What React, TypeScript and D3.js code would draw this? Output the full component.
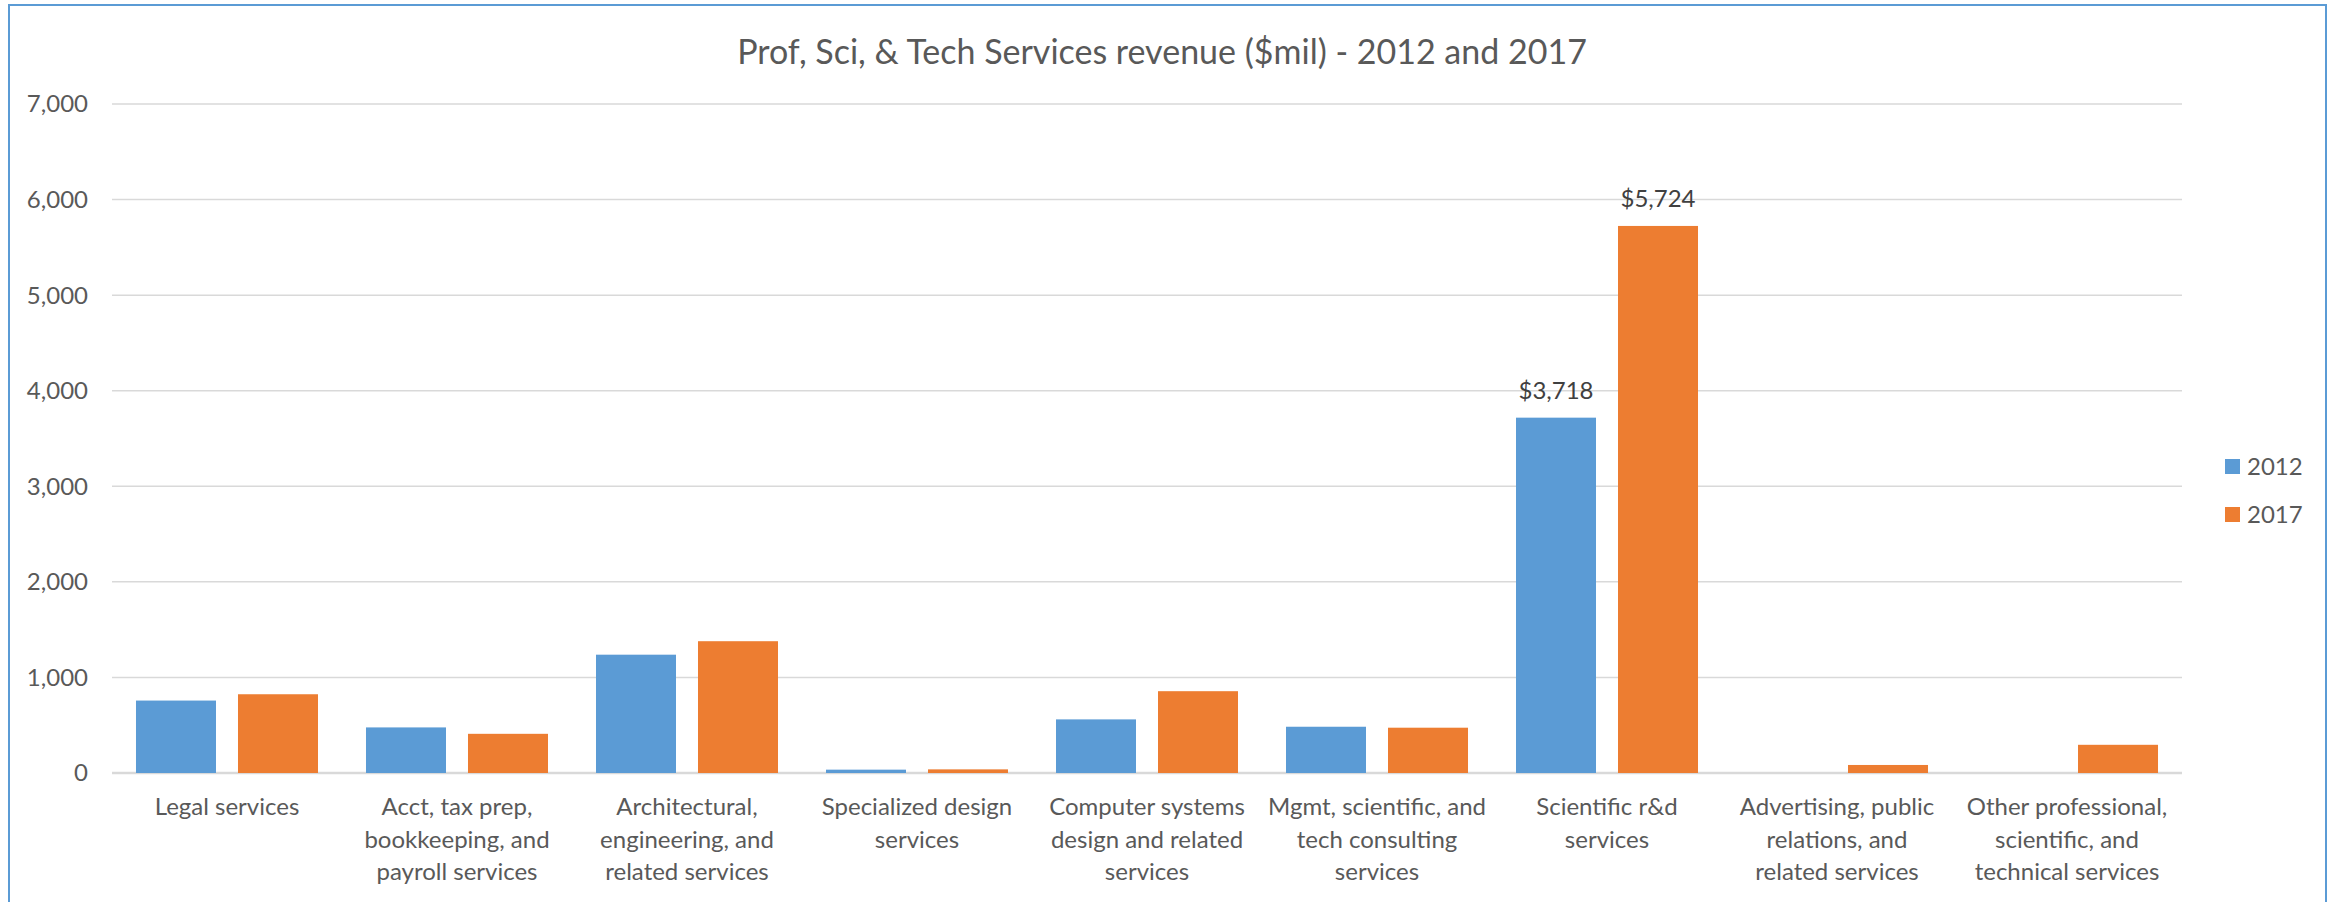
import React from "react";
import * as d3 from "d3";

const categories: string[][] = [
  ["Legal services"],
  ["Acct, tax prep,", "bookkeeping, and", "payroll services"],
  ["Architectural,", "engineering, and", "related services"],
  ["Specialized design", "services"],
  ["Computer systems", "design and related", "services"],
  ["Mgmt, scientific, and", "tech consulting", "services"],
  ["Scientific r&d", "services"],
  ["Advertising, public", "relations, and", "related services"],
  ["Other professional,", "scientific, and", "technical services"],
];
const seriesNames = ["2012", "2017"];
const values2012 = [758, 477, 1238, 35, 561, 484, 3718, 0, 0];
const values2017 = [824, 410, 1379, 38, 856, 474, 5724, 84, 295];
const labeledCategoryIndex = 6;
const yTicks = [0, 1000, 2000, 3000, 4000, 5000, 6000, 7000];
const title = "Prof, Sci, & Tech Services revenue ($mil) - 2012 and 2017";

const colors = ["#5B9BD5", "#ED7D31"];
const W = 2333;
const H = 902;
const FONT = "Lato, 'Open Sans', sans-serif";
const TEXT = "#595959";

export default function App() {
  const plotLeft = 112;
  const plotRight = 2182;
  const plotTop = 104;
  const plotBottom = 773;
  const seriesValues = [values2012, values2017];
  const catKeys = categories.map((_, i) => String(i));

  const x0 = d3.scaleBand<string>().domain(catKeys).range([plotLeft, plotRight]).paddingInner(0.2087).paddingOuter(0.1043);
  const x1 = d3.scaleBand<string>().domain(seriesNames).range([0, x0.bandwidth()]).paddingInner(0.2157).paddingOuter(0);
  const y = d3.scaleLinear().domain([0, 7000]).range([plotBottom, plotTop]);
  const fmtTick = d3.format(",");
  const fmtLabel = d3.format("$,");

  return (
    <svg width={W} height={H} style={{ position: "absolute", left: 0, top: 0, background: "#fff" }}>
      <rect x={0} y={0} width={W} height={H} fill="#fff" />
      <rect x={9} y={5} width={2317} height={1200} fill="none" stroke="#5B9BD5" strokeWidth={2} />
      <text x={1162} y={64} textAnchor="middle" fontFamily={FONT} fontSize={34} fill={TEXT}>{title}</text>
      {yTicks.map((t) => (
        <g key={t}>
          <line x1={plotLeft} x2={plotRight} y1={y(t)} y2={y(t)} stroke="#D9D9D9" strokeWidth={t === 0 ? 2.5 : 1.5} />
          <text x={88} y={y(t)} dy="0.35em" textAnchor="end" fontFamily={FONT} fontSize={24} fill={TEXT}>{fmtTick(t)}</text>
        </g>
      ))}
      {catKeys.map((k, ci) => (
        <g key={k} transform={`translate(${x0(k)},0)`}>
          {seriesNames.map((s, si) => {
            const v = seriesValues[si][ci];
            if (!v) return null;
            const bx = x1(s)!;
            return (
              <g key={s}>
                <rect x={bx} y={y(v)} width={x1.bandwidth()} height={y(0) - y(v)} fill={colors[si]} />
                {ci === labeledCategoryIndex && (
                  <text x={bx + x1.bandwidth() / 2} y={y(v) - 19} textAnchor="middle" fontFamily={FONT} fontSize={24} fill="#404040">{fmtLabel(v)}</text>
                )}
              </g>
            );
          })}
          {categories[ci].map((line, li) => (
            <text key={li} x={x0.bandwidth() / 2} y={815 + li * 32.5} textAnchor="middle" fontFamily={FONT} fontSize={24} fill={TEXT}>{line}</text>
          ))}
        </g>
      ))}
      {seriesNames.map((s, si) => (
        <g key={s} transform={`translate(2225,${459 + si * 48})`}>
          <rect x={0} y={0} width={15} height={15} fill={colors[si]} />
          <text x={22} y={7.5} dy="0.36em" fontFamily={FONT} fontSize={24} fill={TEXT}>{s}</text>
        </g>
      ))}
    </svg>
  );
}
